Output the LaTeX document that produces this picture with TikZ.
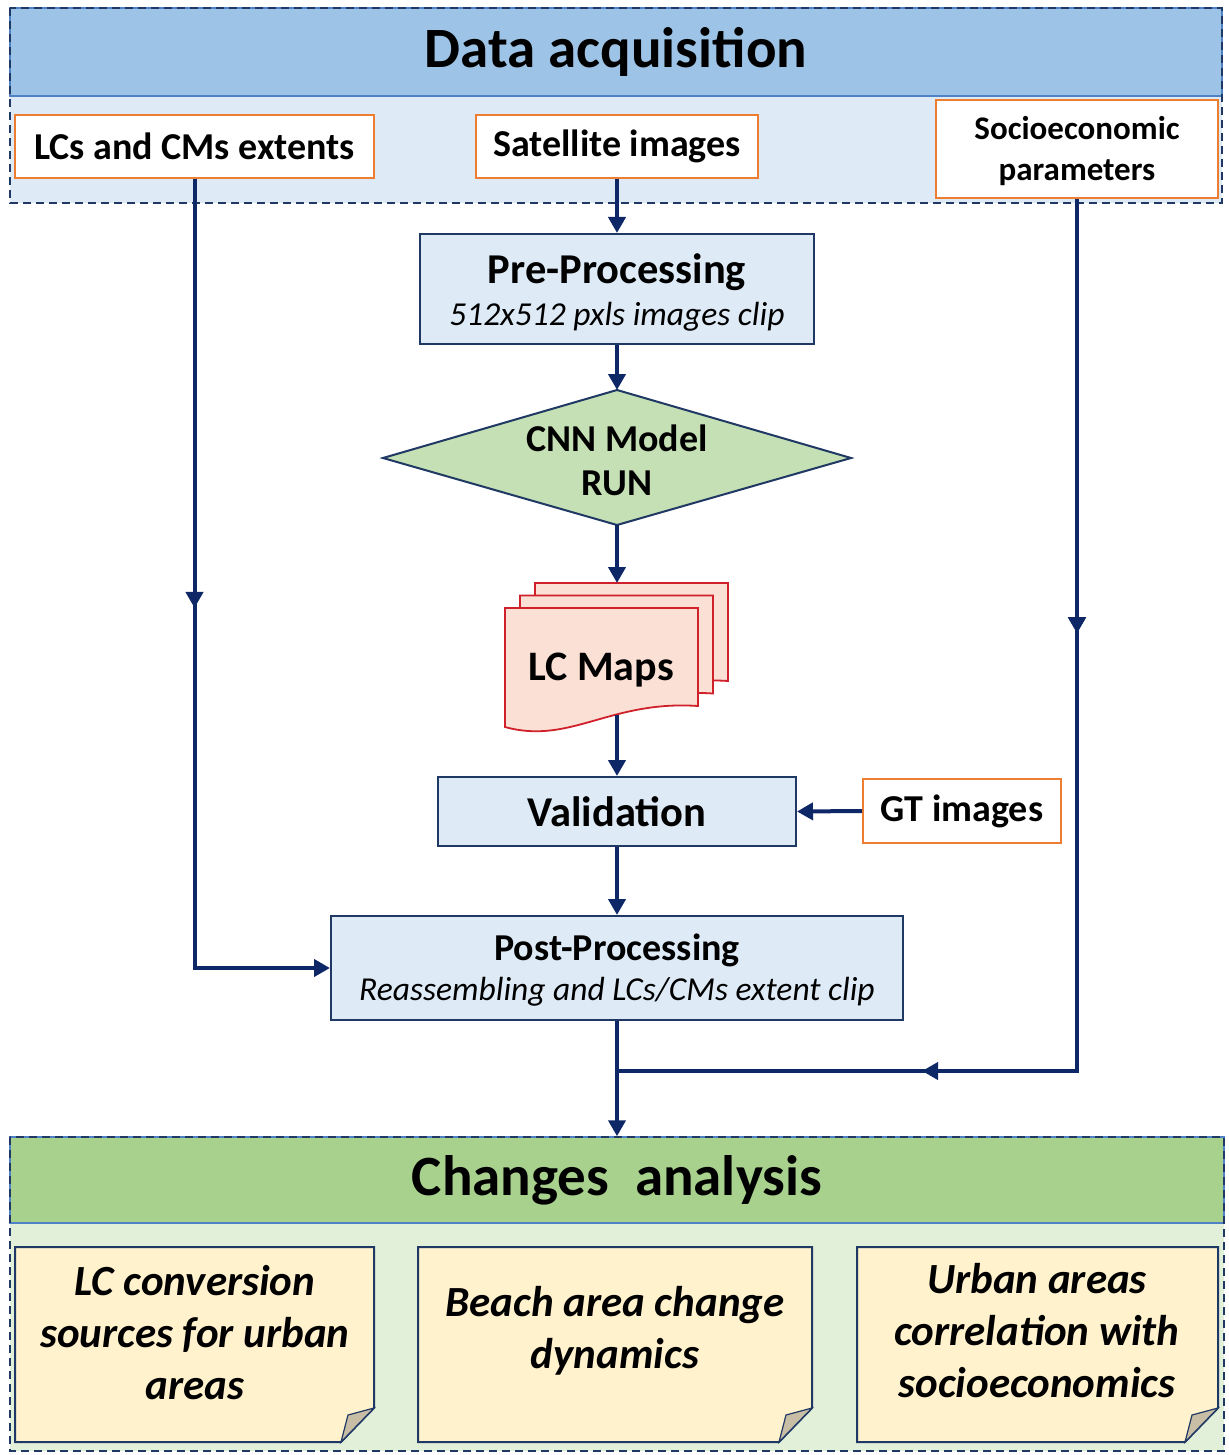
\documentclass[tikz,border=0pt]{standalone}
\usepackage{fontspec}
\setmainfont{Carlito}
\usetikzlibrary{arrows.meta,decorations.markings}
\definecolor{navy}{HTML}{1F3864}
\definecolor{connc}{HTML}{0E2766}
\definecolor{orng}{HTML}{ED7D31}
\definecolor{hdrblue}{HTML}{9DC3E6}
\definecolor{areablue}{HTML}{DEEBF7}
\definecolor{hdrgreen}{HTML}{A9D18E}
\definecolor{areagreen}{HTML}{E2F0D9}
\definecolor{edgeblue}{HTML}{4F81C7}
\definecolor{notefill}{HTML}{FFF2CC}
\definecolor{foldfill}{HTML}{C8BEA6}
\definecolor{diafill}{HTML}{C5E0B4}
\definecolor{docfill}{HTML}{FBE1D5}
\definecolor{docedge}{HTML}{D0202A}
\tikzset{
  hdr/.style={draw=edgeblue, line width=1.5pt, inner sep=0pt, font=\fontsize{57}{62}\selectfont\bfseries},
  grpedge/.style={draw=navy, line width=1.8pt, dash pattern=on 8pt off 5pt},
  srcbox/.style={draw=orng, line width=2pt, fill=white, inner sep=0pt, align=center},
  procbox/.style={draw=navy, line width=2pt, fill=areablue, inner sep=0pt},
  lbl/.style={inner sep=0pt, font=\fontsize{38}{44}\selectfont\bfseries, align=center},
  sublbl/.style={inner sep=0pt, font=\fontsize{33.5}{40}\selectfont\itshape},
  notetxt/.style={inner sep=0pt, align=center, font=\fontsize{43}{52}\selectfont\bfseries\itshape},
  noteshape/.style={draw=navy, line width=2pt, fill=notefill},
  foldshape/.style={draw=navy, line width=1.2pt, fill=foldfill},
  docshape/.style={draw=docedge, line width=1.8pt, fill=docfill},
  conn/.style={draw=connc, line width=4pt},
  tipped/.style={-{Triangle[length=16pt,width=17pt]}},
  midtip/.style={postaction={decorate}, decoration={markings, mark=at position #1 with {\arrow{Triangle[length=16pt,width=17pt]}}}}
}
\newcommand{\notebox}[4]{%
  \path[noteshape] (#1,#2) -- (#3,#2) -- (#3,#4-34) -- (#3-33,#4) -- (#1,#4) -- cycle;
  \path[foldshape] (#3,#4-34) -- (#3-26,#4-27) -- (#3-33,#4) -- cycle;}
\newcommand{\docpath}{(505,608) -- (698,608) -- (698,706) .. controls (610,700) and (570,745) .. (505,727) -- cycle}
\begin{document}
\begin{tikzpicture}[x=1pt,y=-1pt]
\useasboundingbox (0,0) rectangle (1228,1455);
% ---------- Data acquisition group ----------
\fill[areablue] (10,8) rectangle (1222,203);
\node[hdr, fill=hdrblue, minimum width=1212pt, minimum height=88pt] (acqhdr) at (616,52) {Data acquisition};
\draw[grpedge] (10,8) rectangle (1222,203);
\node[srcbox, lbl, minimum width=359pt, minimum height=63pt] (lcs) at (194.5,146.5) {LCs and CMs extents};
\node[srcbox, lbl, minimum width=282pt, minimum height=63pt] (sat) at (617,146.5) {Satellite images};
\node[srcbox, minimum width=282pt, minimum height=98pt] (socio) at (1077,149) {};
\node[lbl, font=\fontsize{33}{41}\selectfont\bfseries] (sociot) at (1077,151) {Socioeconomic\\parameters};
% ---------- Pre-processing ----------
\node[procbox, minimum width=394pt, minimum height=110pt] (pre) at (617,289) {};
\node[lbl, font=\fontsize{42.5}{48}\selectfont\bfseries] (pret) at (617,272) {Pre-Processing};
\node[sublbl] (pres) at (617,317) {512x512 pxls images clip};
% ---------- CNN diamond ----------
\coordinate (cnnT) at (617,390);
\coordinate (cnnB) at (617,525);
\path[draw=navy, line width=2pt, fill=diafill] (cnnT) -- (851,458) -- (cnnB) -- (383,458) -- cycle;
\node[lbl] (cnn) at (617,460) {CNN Model\\RUN};
% ---------- LC maps document stack ----------
\begin{scope}[shift={(30,-25)}]
  \path[docshape] \docpath;
\end{scope}
\begin{scope}[shift={(15,-12.5)}]
  \path[docshape] \docpath;
\end{scope}
\path[docshape] \docpath;
\coordinate (docTop) at (617,583);
\coordinate (docBot) at (617,715);
\node[lbl, font=\fontsize{42}{48}\selectfont\bfseries] (lcmaps) at (601,670) {LC Maps};
% ---------- Validation ----------
\node[procbox, lbl, font=\fontsize{42.5}{48}\selectfont\bfseries, minimum width=358pt, minimum height=69pt] (val) at (617,811.5) {Validation};
\node[srcbox, lbl, minimum width=198pt, minimum height=64pt] (gt) at (962,811) {GT images};
% ---------- Post-processing ----------
\node[procbox, minimum width=572pt, minimum height=104pt] (post) at (617,968) {};
\node[lbl] (postt) at (617,950) {Post-Processing};
\node[sublbl] (posts) at (617,992) {Reassembling and LCs/CMs extent clip};
\coordinate (merge) at (617,1071);
% ---------- Changes analysis group ----------
\fill[areagreen] (10,1137) rectangle (1224,1451);
\node[hdr, fill=hdrgreen, minimum width=1214pt, minimum height=86pt] (chg) at (617,1180) {Changes\ \ analysis};
\draw[grpedge] (10,1137) rectangle (1224,1451);
\notebox{15}{1247}{374}{1442}
\notebox{418}{1247}{812}{1442}
\notebox{857}{1247}{1218}{1442}
\node[notetxt] (n1) at (195,1333) {LC conversion\\sources for urban\\areas};
\node[notetxt] (n2) at (615,1331) {Beach area change\\dynamics};
\node[notetxt] (n3) at (1037,1331) {Urban areas\\correlation with\\socioeconomics};
% ---------- connectors ----------
\draw[conn, tipped] (sat.south) -- (pre.north);
\draw[conn, tipped] (pre.south) -- (cnnT);
\draw[conn, tipped] (cnnB) -- (docTop);
\draw[conn, tipped] (docBot) -- (val.north);
\draw[conn, tipped] (gt.west) -- (val.east);
\draw[conn, tipped] (val.south) -- (post.north);
\draw[conn, tipped, midtip=0.464] (lcs.south) |- (post.west);
\draw[conn, midtip=0.326, postaction={decorate, decoration={markings, mark=at position 0.771 with {\arrow{Triangle[length=16pt,width=17pt]}}}}] (socio.south) |- (merge);
\draw[conn, tipped] (post.south) -- (chg.north);
\end{tikzpicture}
\end{document}
